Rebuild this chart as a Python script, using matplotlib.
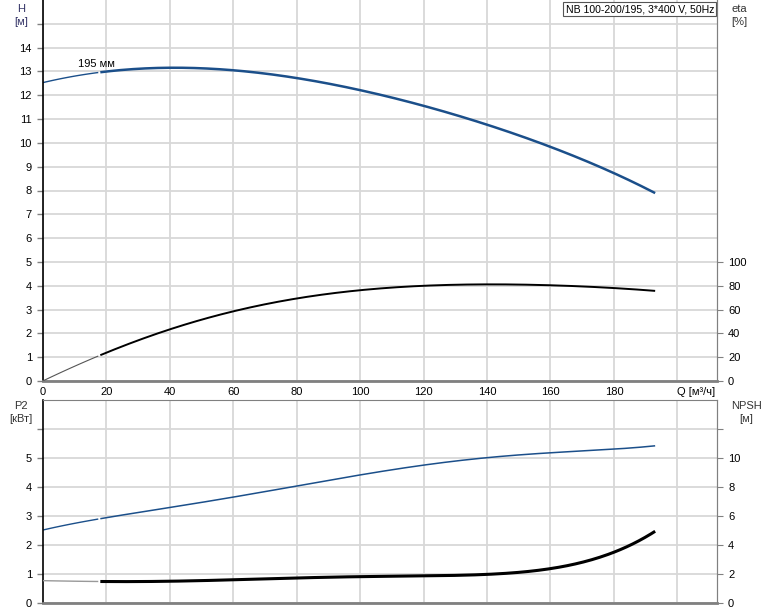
import numpy as np
import matplotlib.pyplot as plt

plt.rcParams['font.family'] = ['Liberation Sans', 'DejaVu Sans']
plt.rcParams['font.size'] = 8

# Q [m3/h]
q = [0, 20, 40, 60, 80, 100, 120, 140, 160, 180, 193]
# head H [m]
head = [12.53, 13.0, 13.16, 13.03, 12.74, 12.2, 11.57, 10.77, 9.8, 8.76, 7.88]
# efficiency [%]
eta = [0, 24.3, 42.7, 58.7, 69.6, 76.3, 79.6, 81.3, 80.5, 78.0, 75.7]
# shaft power P2 [kW]
p2 = [2.52, 2.93, 3.31, 3.65, 4.03, 4.41, 4.76, 5.02, 5.17, 5.31, 5.42]
# NPSH [m]
npsh = [1.55, 1.45, 1.52, 1.62, 1.72, 1.8, 1.85, 2.0, 2.4, 3.45, 4.97]

blue = '#1b4f8a'
grid_c = '#d8d8d8'
spine_c = '#808080'

def split_plot(ax, x, y, color, lw_thin, lw_thick, cut=18, thin_color=None):
    # smooth curve through the read points, thin start segment then thick
    xs = np.linspace(x[0], x[-1], 300)
    c = np.polyfit(x, y, 5)
    ys = np.polyval(c, xs)
    m = xs <= cut
    ax.plot(xs[m], ys[m], color=thin_color or color, lw=lw_thin, solid_capstyle='butt')
    ax.plot(xs[xs >= cut], ys[xs >= cut], color=color, lw=lw_thick, solid_capstyle='butt')

fig = plt.figure(figsize=(7.74, 6.11), dpi=100)
L, R = 43 / 774, 717 / 774
ax1 = fig.add_axes([L, 1 - 381 / 611, R - L, 381 / 611])
ax2 = fig.add_axes([L, 1 - 603 / 611, R - L, (603 - 400) / 611])

for ax in (ax1, ax2):
    ax.set_xlim(0, 212.5)
    ax.set_xticks(range(20, 201, 20))
    ax.grid(True, color=grid_c, lw=1.3)
    ax.set_axisbelow(True)
    ax.spines['left'].set_color('black')
    ax.spines['left'].set_linewidth(1.2)
    ax.spines['right'].set_color(spine_c)
    ax.spines['top'].set_color(spine_c)
    ax.spines['bottom'].set_color(spine_c)
    ax.spines['bottom'].set_linewidth(2)
    ax.tick_params(axis='x', length=0, pad=4)
    ax.tick_params(axis='y', length=4, width=1, color=spine_c, pad=4)

# top: head + efficiency
ax1.set_ylim(0, 16)
ax1.set_yticks(range(0, 16))
ax1.set_yticklabels([str(i) for i in range(15)] + [''])
ax1.set_xticks(range(0, 201, 20))
ax1.set_xticklabels([str(i) for i in range(0, 181, 20)] + ['Q [м³/ч]'])
ax1.get_xticklabels()[-1].set_ha('left')
ax1.spines['top'].set_visible(False)
split_plot(ax1, q, head, blue, 1, 1.8)
ax1.text(11, 13.2, '195 мм', fontsize=8)

ax1e = ax1.twinx()
ax1e.set_ylim(0, 320)
ax1e.set_yticks(range(0, 101, 20))
ax1e.tick_params(axis='y', length=4, color=spine_c, pad=4)
ax1e.spines['right'].set_color(spine_c)
ax1e.spines['top'].set_visible(False)
for s in ('left', 'bottom'):
    ax1e.spines[s].set_visible(False)
split_plot(ax1e, q, eta, 'black', 0.8, 1.4, thin_color='#555555')

# bottom: P2 + NPSH
ax2.set_ylim(0, 7)
ax2.set_yticks(range(0, 7))
ax2.set_yticklabels([str(i) for i in range(6)] + [''])
ax2.set_xticklabels([])
split_plot(ax2, q, p2, blue, 1, 1.1)

ax2n = ax2.twinx()
ax2n.set_ylim(0, 14)
ax2n.set_yticks(range(0, 13, 2))
ax2n.set_yticklabels([str(i) for i in range(0, 11, 2)] + [''])
ax2n.tick_params(axis='y', length=4, color=spine_c, pad=4)
ax2n.spines['right'].set_color(spine_c)
for s in ('left', 'bottom', 'top'):
    ax2n.spines[s].set_visible(False)
split_plot(ax2n, q, npsh, 'black', 1, 2.2, thin_color='#999999')

# axis titles
fig.text(21 / 774, 1 - 4 / 611, 'H\n[м]', ha='center', va='top', color='#333366', linespacing=1.35)
fig.text(739 / 774, 1 - 4 / 611, 'eta\n[%]', ha='center', va='top', color='#333333', linespacing=1.35)
fig.text(21 / 774, 1 - 401 / 611, 'P2\n[кВт]', ha='center', va='top', color='#333333', linespacing=1.35)
fig.text(746 / 774, 1 - 401 / 611, 'NPSH\n[м]', ha='center', va='top', color='#333333', linespacing=1.35)
fig.text(714 / 774, 1 - 4 / 611, 'NB 100-200/195, 3*400 V, 50Hz', ha='right', va='top', fontsize=7.6,
         bbox=dict(facecolor='white', edgecolor='#555555', lw=0.8, pad=1.5))

fig.savefig('out.png', dpi=100)
